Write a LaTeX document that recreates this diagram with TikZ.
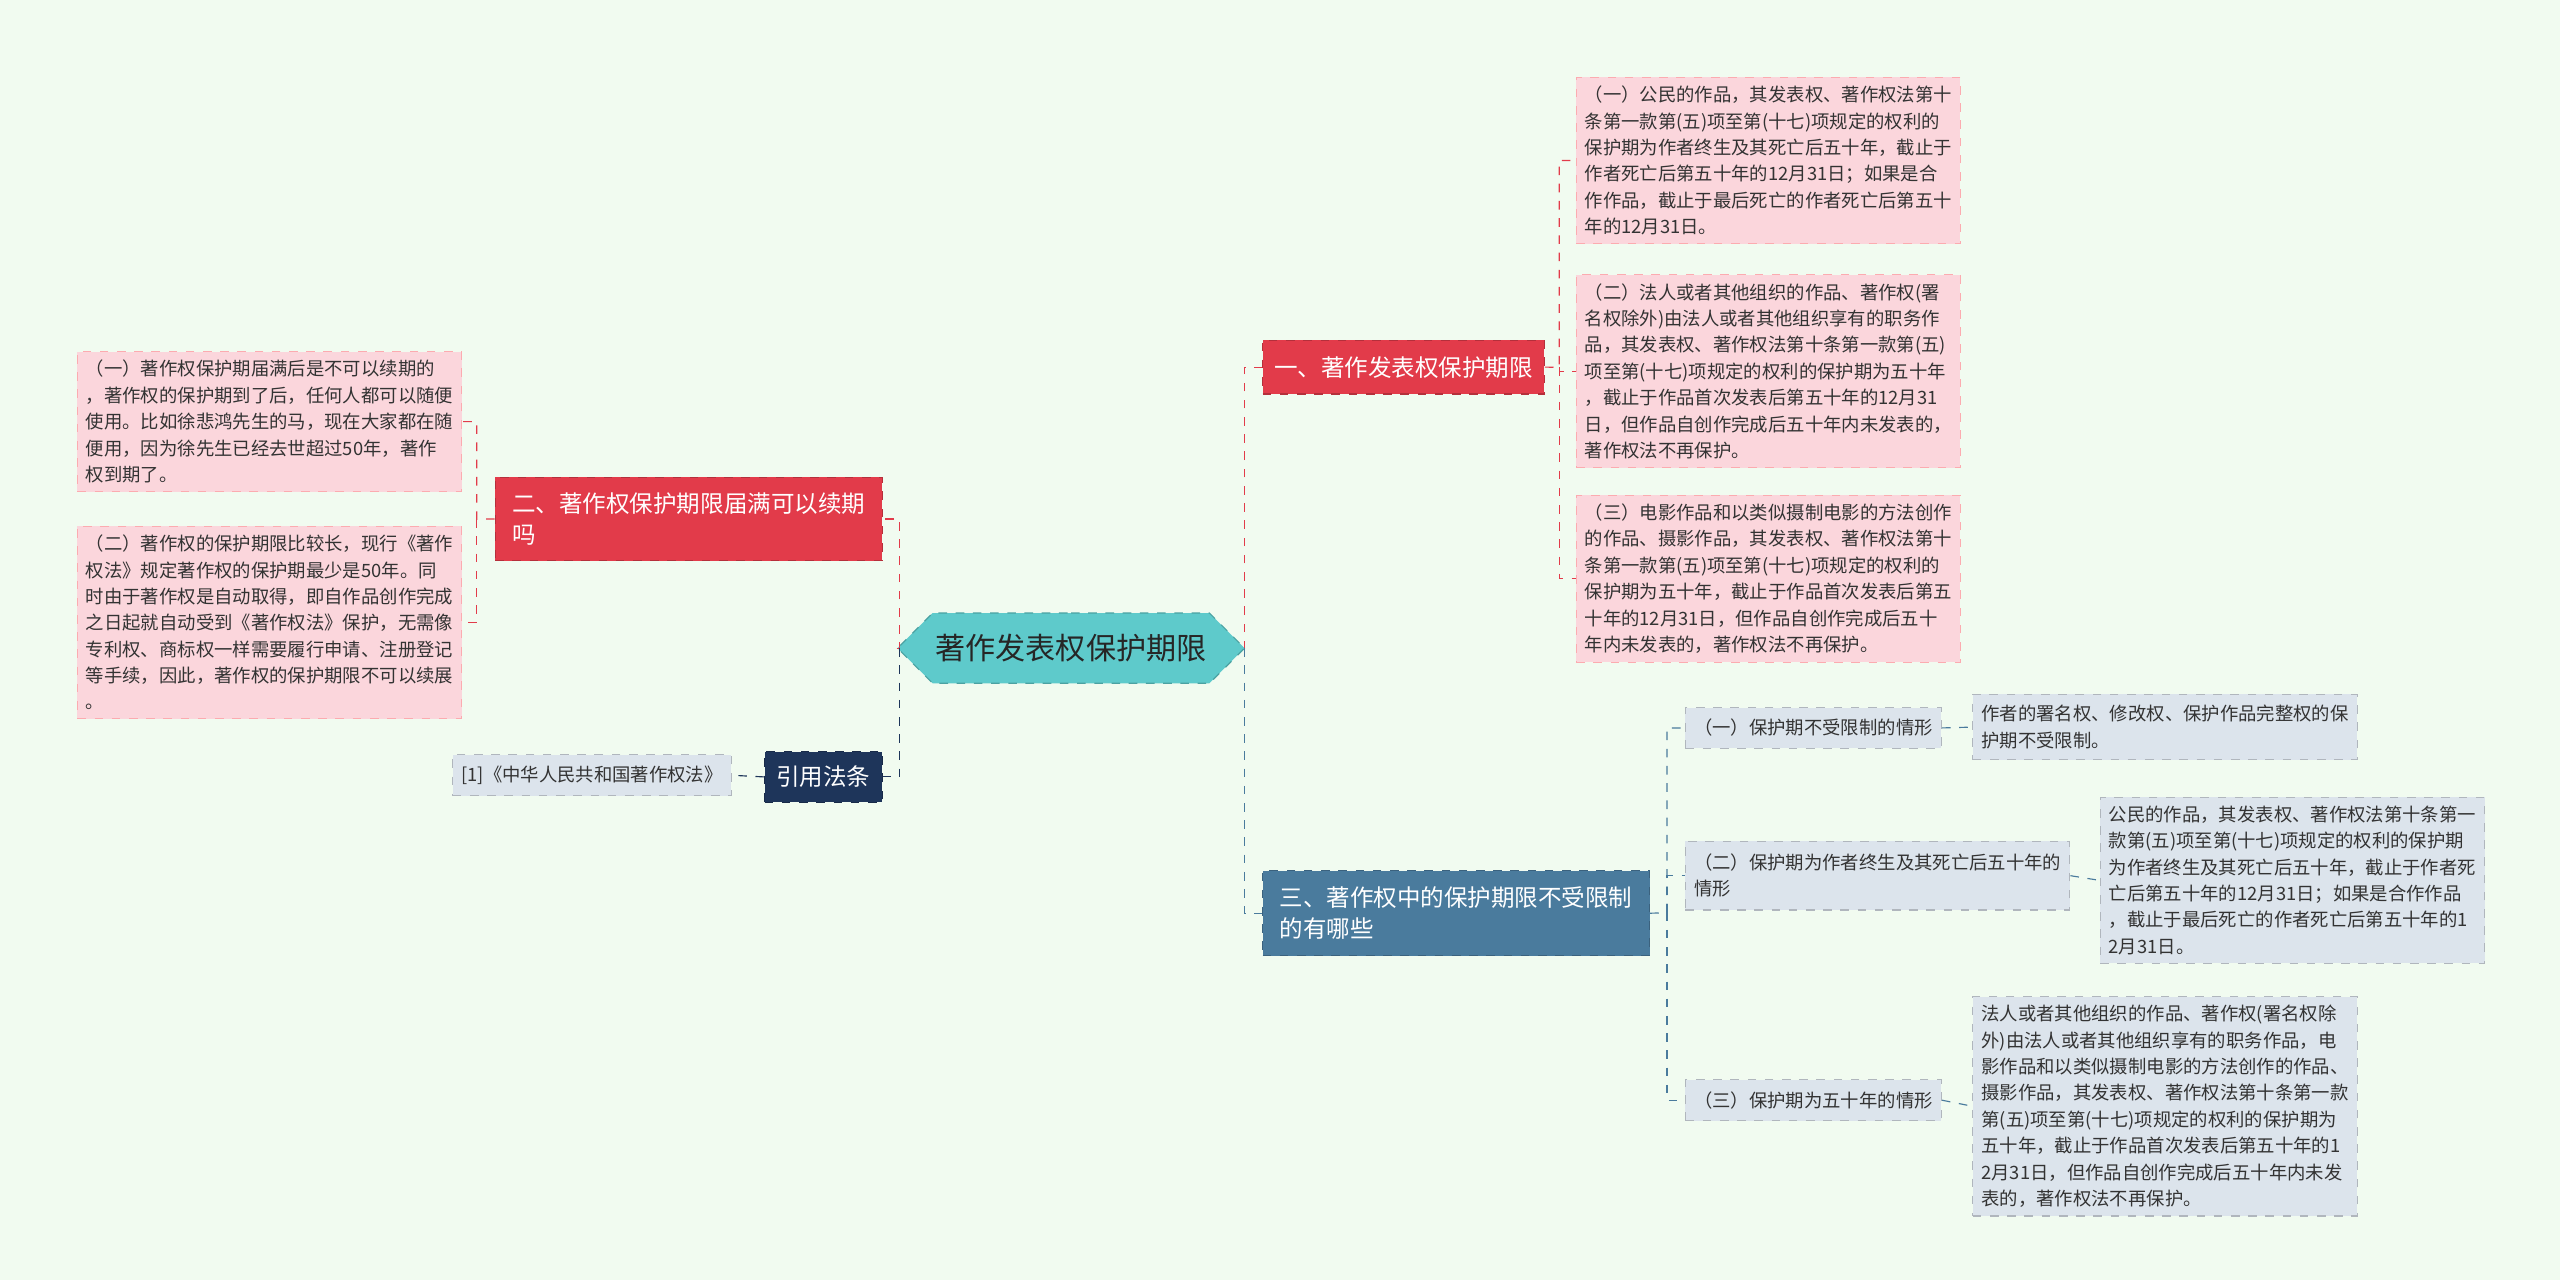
\documentclass[tikz,border=0pt]{standalone}
\usepackage{fontspec}
\setmainfont{Noto Sans CJK SC}
\usetikzlibrary{shapes.symbols}
\definecolor{bgc}{HTML}{F1FBF0}
\definecolor{redc}{HTML}{E23B4A}
\definecolor{pinkc}{HTML}{FBD6DC}
\definecolor{bluec}{HTML}{4A7B9D}
\definecolor{greyc}{HTML}{DCE4EC}
\definecolor{navyc}{HTML}{1E355A}
\definecolor{tealc}{HTML}{5ECACB}
\begin{document}
\begin{tikzpicture}[x=0.02cm,y=-0.02cm]
  \tikzstyle{leaf}=[draw, dashed, align=left, anchor=north west, inner sep=3pt,
    font=\fontsize{6.4}{9.2}\selectfont, text=black!80]
  \tikzstyle{pinkleaf}=[leaf, fill=pinkc, draw=pinkc!80!red]
  \tikzstyle{greyleaf}=[leaf, fill=greyc, draw=greyc!80!black]
  \tikzstyle{branch}=[draw, dashed, align=left, anchor=north west, inner sep=4pt,
    font=\fontsize{8.2}{11}\selectfont, text=white]
  \tikzstyle{redline}=[draw=redc, dashed, thin]
  \tikzstyle{blueline}=[draw=bluec, dashed, thin]
  \fill[bgc] (0,0) rectangle (1568,784);
  \useasboundingbox (0,0) rectangle (1568,784);
  % centre
  \node[signal, signal to=east and west, fill=tealc, draw=tealc!80!black, dashed,
    minimum width=160*0.02cm, minimum height=43*0.02cm, inner xsep=1pt,
    font=\fontsize{10.5}{12}\selectfont, text=black!85] (root) at (656,397) {著作发表权保护期限};
  % right side
  \node[branch, fill=redc, draw=redc!80!black, minimum width=171*0.02cm, minimum height=33*0.02cm] (b1) at (773,208) {一、著作发表权保护期限};
  \node[branch, fill=bluec, draw=bluec!80!black, minimum width=237*0.02cm, minimum height=52*0.02cm] (b3) at (773,533) {三、著作权中的保护期限不受限制\\的有哪些};
  \node[pinkleaf, minimum width=233*0.02cm, minimum height=98*0.02cm] (c1) at (965,47) {（一）公民的作品，其发表权、著作权法第十\\条第一款第(五)项至第(十七)项规定的权利的\\保护期为作者终生及其死亡后五十年，截止于\\作者死亡后第五十年的12月31日；如果是合\\作作品，截止于最后死亡的作者死亡后第五十\\年的12月31日。};
  \node[pinkleaf, minimum width=233*0.02cm, minimum height=112*0.02cm] (c2) at (965,168) {（二）法人或者其他组织的作品、著作权(署\\名权除外)由法人或者其他组织享有的职务作\\品，其发表权、著作权法第十条第一款第(五)\\项至第(十七)项规定的权利的保护期为五十年\\，截止于作品首次发表后第五十年的12月31\\日，但作品自创作完成后五十年内未发表的，\\著作权法不再保护。};
  \node[pinkleaf, minimum width=233*0.02cm, minimum height=98*0.02cm] (c3) at (965,303) {（三）电影作品和以类似摄制电影的方法创作\\的作品、摄影作品，其发表权、著作权法第十\\条第一款第(五)项至第(十七)项规定的权利的\\保护期为五十年，截止于作品首次发表后第五\\十年的12月31日，但作品自创作完成后五十\\年内未发表的，著作权法不再保护。};
  \node[greyleaf, minimum width=155*0.02cm, minimum height=25*0.02cm] (s1) at (1032,433) {（一）保护期不受限制的情形};
  \node[greyleaf, minimum width=233*0.02cm, minimum height=42*0.02cm] (s2) at (1032,515) {（二）保护期为作者终生及其死亡后五十年的\\情形};
  \node[greyleaf, minimum width=155*0.02cm, minimum height=25*0.02cm] (s3) at (1032,661) {（三）保护期为五十年的情形};
  \node[greyleaf, minimum width=234*0.02cm, minimum height=40*0.02cm] (t1) at (1208,425) {作者的署名权、修改权、保护作品完整权的保\\护期不受限制。};
  \node[greyleaf, minimum width=234*0.02cm, minimum height=98*0.02cm] (t2) at (1286,488) {公民的作品，其发表权、著作权法第十条第一\\款第(五)项至第(十七)项规定的权利的保护期\\为作者终生及其死亡后五十年，截止于作者死\\亡后第五十年的12月31日；如果是合作作品\\，截止于最后死亡的作者死亡后第五十年的1\\2月31日。};
  \node[greyleaf, minimum width=234*0.02cm, minimum height=126*0.02cm] (t3) at (1208,610) {法人或者其他组织的作品、著作权(署名权除\\外)由法人或者其他组织享有的职务作品，电\\影作品和以类似摄制电影的方法创作的作品、\\摄影作品，其发表权、著作权法第十条第一款\\第(五)项至第(十七)项规定的权利的保护期为\\五十年，截止于作品首次发表后第五十年的1\\2月31日，但作品自创作完成后五十年内未发\\表的，著作权法不再保护。};
  % left side
  \node[branch, fill=redc, draw=redc!80!black, minimum width=237*0.02cm, minimum height=51*0.02cm] (b2) at (303,292) {二、著作权保护期限届满可以续期\\吗};
  \node[branch, fill=navyc, draw=navyc!80!black, minimum width=72*0.02cm, minimum height=31*0.02cm] (b4) at (468,460) {引用法条};
  \node[pinkleaf, minimum width=235*0.02cm, minimum height=84*0.02cm] (l1) at (47,215) {（一）著作权保护期届满后是不可以续期的\\，著作权的保护期到了后，任何人都可以随便\\使用。比如徐悲鸿先生的马，现在大家都在随\\便用，因为徐先生已经去世超过50年，著作\\权到期了。};
  \node[pinkleaf, minimum width=235*0.02cm, minimum height=112*0.02cm] (l2) at (47,322) {（二）著作权的保护期限比较长，现行《著作\\权法》规定著作权的保护期最少是50年。同\\时由于著作权是自动取得，即自作品创作完成\\之日起就自动受到《著作权法》保护，无需像\\专利权、商标权一样需要履行申请、注册登记\\等手续，因此，著作权的保护期限不可以续展\\。};
  \node[greyleaf, minimum width=170*0.02cm, minimum height=25*0.02cm] (r1) at (277,462) {[1]《中华人民共和国著作权法》};
  % connectors
  \draw[redline] (root.east) -- (762,397) |- (b1.west);
  \draw[blueline] (762,397) |- (b3.west);
  \draw[redline] (b1.east) -- (955,225) |- (c1.west);
  \draw[redline] (955,225) |- (c2.west);
  \draw[redline] (955,225) |- (c3.west);
  \draw[blueline] (b3.east) -- (1021,559) |- (s1.west);
  \draw[blueline] (1021,559) |- (s2.west);
  \draw[blueline] (1021,559) |- (s3.west);
  \draw[blueline] (s1.east) -- (t1.west);
  \draw[blueline] (s2.east) -- (t2.west);
  \draw[blueline] (s3.east) -- (t3.west);
  \draw[redline] (root.west) -- (551,397) |- (b2.east);
  \draw[draw=navyc, dashed, thin] (551,397) |- (b4.east);
  \draw[redline] (b2.west) -- (292,318) |- (l1.east);
  \draw[redline] (292,318) |- (l2.east);
  \draw[draw=navyc, dashed, thin] (b4.west) -- (r1.east);
\end{tikzpicture}
\end{document}
